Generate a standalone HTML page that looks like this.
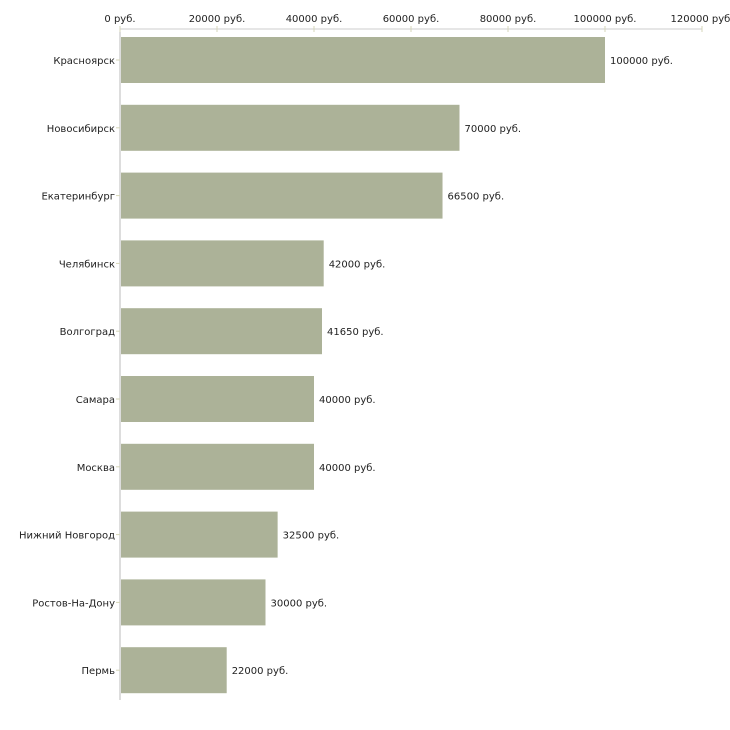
<!DOCTYPE html>
<html><head><meta charset="utf-8"><style>
body{margin:0;background:#fff;}
svg{display:block;font-family:"DejaVu Sans","Liberation Sans",sans-serif;font-size:10px;}
</style></head><body>
<svg id="chart" width="730" height="730">
<line x1="120" y1="29" x2="702" y2="29" stroke="#ccc"/>
<line x1="120" y1="29" x2="120" y2="700" stroke="#bbb"/>
</svg>
<script>
const categories=["Красноярск","Новосибирск","Екатеринбург","Челябинск","Волгоград","Самара","Москва","Нижний Новгород","Ростов-На-Дону","Пермь"];
const values=[100000,70000,66500,42000,41650,40000,40000,32500,30000,22000];
const ticks=[0,20000,40000,60000,80000,100000,120000];
const svg=document.getElementById('chart');
const NS='http://www.w3.org/2000/svg';
const x=v=>120+v*(582/120000);
const y=i=>60+i*67.8;
function mk(t,a){const e=document.createElementNS(NS,t);for(const k in a)e.setAttribute(k,a[k]);svg.appendChild(e);return e;}
ticks.forEach(t=>{
 const l=mk('line',{x1:x(t),y1:26,x2:x(t),y2:32,stroke:'#d6d6b8'});
 
 
 const tx=mk('text',{x:x(t),y:22,'text-anchor':'middle',fill:'#222'});
 tx.textContent=t+' руб.';
 
 
});
categories.forEach((c,i)=>{
 const cy=y(i);
 const tk=mk('line',{x1:116,y1:cy,x2:120,y2:cy,stroke:'#d6d6b8'});
 
 
 const lb=mk('text',{x:115,y:cy+4,'text-anchor':'end',fill:'#222'});
 lb.textContent=c;
 
 
 const b=mk('rect',{x:121,y:cy-23,width:x(values[i])-121,height:46,fill:'#acb298'});
 
 
 const v=mk('text',{x:x(values[i])+5,y:cy+4,fill:'#222'});
 v.textContent=values[i]+' руб.';
 
 
});
</script>
</body></html>
